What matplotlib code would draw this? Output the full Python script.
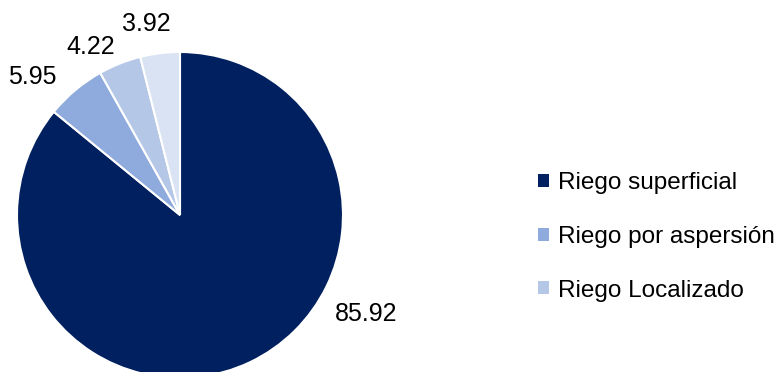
import numpy as np
import matplotlib.pyplot as plt
from matplotlib.patches import Patch

plt.rcParams['font.family'] = ['Liberation Sans', 'DejaVu Sans']

# datos
valores = [85.92, 5.95, 4.22, 3.92]
etiquetas = ['85.92', '5.95', '4.22', '3.92']
colores = ['#00205F', '#8FAADC', '#B4C7E7', '#DAE3F3']
leyenda = ['Riego superficial', 'Riego por aspersión', 'Riego Localizado']

# posicion de etiquetas (angulo en grados, distancia relativa al radio)
pos_etiquetas = [(-28, 1.29), (137, 1.24), (118, 1.17), (100, 1.19)]

W, H = 783, 372
fig = plt.figure(figsize=(W / 100, H / 100), dpi=100)

cx, cy, r = 180, 215, 163
ax = fig.add_axes([(cx - r) / W, (H - cy - r) / H, 2 * r / W, 2 * r / H])
ax.pie(valores, colors=colores, startangle=90, counterclock=False,
       wedgeprops=dict(edgecolor='white', linewidth=1.5), radius=1)
ax.set_xlim(-1, 1)
ax.set_ylim(-1, 1)
ax.set_aspect('equal')
ax.axis('off')

for txt, (ang, d) in zip(etiquetas, pos_etiquetas):
    a = np.deg2rad(ang)
    ax.text(d * np.cos(a), d * np.sin(a), txt, ha='center', va='center',
            fontsize=18, clip_on=False)

handles = [Patch(facecolor=c, edgecolor='none') for c in colores[:3]]
fig.legend(handles, leyenda, loc='center left', bbox_to_anchor=(526 / W, 1 - 237 / H),
           frameon=False, fontsize=17.5, handlelength=0.45, handleheight=0.45,
           handletextpad=0.35, labelspacing=1.3, borderpad=0)

fig.savefig('out.png', dpi=100)
